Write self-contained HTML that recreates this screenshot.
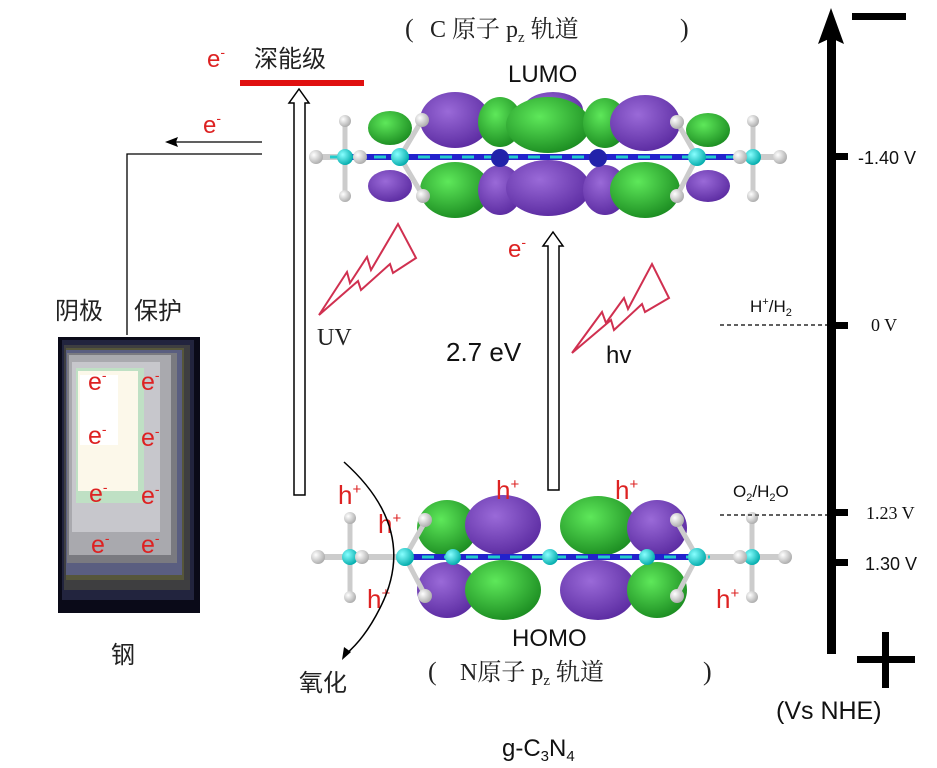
<!DOCTYPE html><html><head><meta charset="utf-8"><style>body{margin:0;background:#fff}svg{display:block}</style></head><body>
<svg width="937" height="768" viewBox="0 0 937 768" xmlns="http://www.w3.org/2000/svg" font-family="Liberation Sans, Noto Sans CJK SC, sans-serif">
<defs>
<radialGradient id="p" cx="40%" cy="35%" r="70%"><stop offset="0" stop-color="#9a6ad8"/><stop offset="1" stop-color="#5a2aa0"/></radialGradient>
<radialGradient id="g" cx="40%" cy="35%" r="70%"><stop offset="0" stop-color="#5ee85a"/><stop offset="1" stop-color="#1a8a20"/></radialGradient>
<radialGradient id="c" cx="35%" cy="35%" r="70%"><stop offset="0" stop-color="#8ff"/><stop offset="1" stop-color="#0aa"/></radialGradient>
<radialGradient id="h" cx="35%" cy="35%" r="70%"><stop offset="0" stop-color="#fff"/><stop offset="1" stop-color="#aaa"/></radialGradient>
</defs>
<text x="405" y="37" font-family="Liberation Serif, Noto Serif CJK SC, serif" font-size="26" fill="#222">(</text>
<text x="430" y="37" font-family="Liberation Serif, Noto Serif CJK SC, serif" font-size="24" fill="#222">C 原子  p<tspan font-size="15" dy="5">z</tspan><tspan dy="-5">  轨道</tspan></text>
<text x="680" y="37" font-family="Liberation Serif, serif" font-size="26" fill="#222">)</text>
<text x="508" y="82" font-size="24" fill="#111">LUMO</text>
<text x="207" y="67" font-size="24" fill="#d22">e<tspan font-size="14" dy="-10">-</tspan></text>
<text x="254" y="67" font-size="24" fill="#222" font-family="Noto Sans CJK SC, sans-serif">深能级</text>
<rect x="240" y="80" width="124" height="6" fill="#e01010"/>
<text x="203" y="133" font-size="24" fill="#d22">e<tspan font-size="14" dy="-10">-</tspan></text>
<line x1="262" y1="142" x2="175" y2="142" stroke="#000" stroke-width="1.3"/>
<path d="M165 142 L178 137 L176 142 L178 147 Z" fill="#000"/>
<polyline points="262,154 127,154 127,335" fill="none" stroke="#000" stroke-width="1.3"/>
<path d="M294 495 V103 H289 L299 89 L309 103 H305 V495 Z" fill="#fff" stroke="#000" stroke-width="1.5"/>
<path d="M548 490 V246 H543 L553 232 L563 246 H559 V490 Z" fill="#fff" stroke="#000" stroke-width="1.5"/>
<text x="508" y="257" font-size="24" fill="#d22">e<tspan font-size="14" dy="-10">-</tspan></text>
<text x="446" y="361" font-size="26" fill="#111">2.7 eV</text>
<text x="606" y="363" font-size="24" fill="#111">hv</text>
<text x="317" y="345" font-family="Liberation Serif, serif" font-size="24" fill="#222">UV</text>
<polygon points="319,315 347,272 350,283 367,257 371,270 398,224 416,258 393,273 390,264 361,290 358,281" fill="none" stroke="#d03050" stroke-width="2"/>
<polygon points="572,353 602,312 606,323 624,298 628,309 652,264 669,298 645,312 642,304 614,330 611,320" fill="none" stroke="#d03050" stroke-width="2"/>
<g>
<ellipse cx="390" cy="128" rx="22" ry="17" fill="url(#g)"/>
<ellipse cx="455" cy="120" rx="35" ry="28" fill="url(#p)"/>
<ellipse cx="500" cy="122" rx="22" ry="25" fill="url(#g)"/>
<ellipse cx="553" cy="110" rx="30" ry="18" fill="url(#p)"/>
<ellipse cx="548" cy="125" rx="42" ry="28" fill="url(#g)"/>
<ellipse cx="605" cy="123" rx="22" ry="25" fill="url(#g)"/>
<ellipse cx="645" cy="123" rx="35" ry="28" fill="url(#p)"/>
<ellipse cx="708" cy="130" rx="22" ry="17" fill="url(#g)"/>
<ellipse cx="390" cy="186" rx="22" ry="16" fill="url(#p)"/>
<ellipse cx="455" cy="190" rx="35" ry="28" fill="url(#g)"/>
<ellipse cx="500" cy="190" rx="22" ry="25" fill="url(#p)"/>
<ellipse cx="548" cy="188" rx="42" ry="28" fill="url(#p)"/>
<ellipse cx="605" cy="190" rx="22" ry="25" fill="url(#p)"/>
<ellipse cx="645" cy="190" rx="35" ry="28" fill="url(#g)"/>
<ellipse cx="708" cy="186" rx="22" ry="16" fill="url(#p)"/>
<line x1="315" y1="157" x2="780" y2="157" stroke="#ccc" stroke-width="6"/>
<line x1="340" y1="157" x2="750" y2="157" stroke="#22c" stroke-width="6"/>
<line x1="330" y1="157" x2="760" y2="157" stroke="#2cc" stroke-width="3" stroke-dasharray="12 10"/>
<g stroke="#ccc" stroke-width="5"><line x1="400" y1="157" x2="422" y2="120"/><line x1="400" y1="157" x2="423" y2="196"/><line x1="697" y1="157" x2="677" y2="122"/><line x1="697" y1="157" x2="677" y2="196"/><line x1="345" y1="157" x2="345" y2="123"/><line x1="345" y1="157" x2="345" y2="195"/><line x1="753" y1="157" x2="753" y2="123"/><line x1="753" y1="157" x2="753" y2="195"/></g>
<circle cx="400" cy="157" r="9" fill="url(#c)"/><circle cx="697" cy="157" r="9" fill="url(#c)"/>
<circle cx="345" cy="157" r="8" fill="url(#c)"/><circle cx="753" cy="157" r="8" fill="url(#c)"/>
<circle cx="500" cy="158" r="9" fill="#22a"/><circle cx="598" cy="158" r="9" fill="#22a"/>
<g fill="url(#h)"><circle cx="422" cy="120" r="7"/><circle cx="423" cy="196" r="7"/><circle cx="677" cy="122" r="7"/><circle cx="677" cy="196" r="7"/><circle cx="345" cy="121" r="6"/><circle cx="345" cy="196" r="6"/><circle cx="753" cy="121" r="6"/><circle cx="753" cy="196" r="6"/><circle cx="316" cy="157" r="7"/><circle cx="360" cy="157" r="7"/><circle cx="740" cy="157" r="7"/><circle cx="780" cy="157" r="7"/></g>
</g>
<g>
<ellipse cx="447" cy="528" rx="30" ry="28" fill="url(#g)"/>
<ellipse cx="503" cy="525" rx="38" ry="30" fill="url(#p)"/>
<ellipse cx="598" cy="526" rx="38" ry="30" fill="url(#g)"/>
<ellipse cx="657" cy="528" rx="30" ry="28" fill="url(#p)"/>
<ellipse cx="447" cy="590" rx="30" ry="28" fill="url(#p)"/>
<ellipse cx="503" cy="590" rx="38" ry="30" fill="url(#g)"/>
<ellipse cx="598" cy="590" rx="38" ry="30" fill="url(#p)"/>
<ellipse cx="657" cy="590" rx="30" ry="28" fill="url(#g)"/>
<line x1="315" y1="557" x2="790" y2="557" stroke="#ccc" stroke-width="6"/>
<line x1="410" y1="557" x2="700" y2="557" stroke="#22c" stroke-width="6"/>
<line x1="400" y1="557" x2="710" y2="557" stroke="#2cc" stroke-width="3" stroke-dasharray="12 10"/>
<g stroke="#ccc" stroke-width="5"><line x1="405" y1="557" x2="425" y2="522"/><line x1="405" y1="557" x2="425" y2="595"/><line x1="697" y1="557" x2="677" y2="522"/><line x1="697" y1="557" x2="677" y2="595"/><line x1="350" y1="557" x2="350" y2="520"/><line x1="350" y1="557" x2="350" y2="595"/><line x1="752" y1="557" x2="752" y2="520"/><line x1="752" y1="557" x2="752" y2="595"/></g>
<g fill="url(#c)"><circle cx="405" cy="557" r="9"/><circle cx="697" cy="557" r="9"/><circle cx="350" cy="557" r="8"/><circle cx="752" cy="557" r="8"/><circle cx="453" cy="557" r="8"/><circle cx="550" cy="557" r="8"/><circle cx="647" cy="557" r="8"/></g>
<g fill="url(#h)"><circle cx="425" cy="520" r="7"/><circle cx="425" cy="596" r="7"/><circle cx="677" cy="520" r="7"/><circle cx="677" cy="596" r="7"/><circle cx="350" cy="518" r="6"/><circle cx="350" cy="597" r="6"/><circle cx="752" cy="518" r="6"/><circle cx="752" cy="597" r="6"/><circle cx="318" cy="557" r="7"/><circle cx="362" cy="557" r="7"/><circle cx="740" cy="557" r="7"/><circle cx="785" cy="557" r="7"/></g>
</g>
<g font-size="26" fill="#d22">
<text x="338" y="504">h<tspan font-size="15" dy="-10">+</tspan></text>
<text x="378" y="533">h<tspan font-size="15" dy="-10">+</tspan></text>
<text x="367" y="608">h<tspan font-size="15" dy="-10">+</tspan></text>
<text x="496" y="499">h<tspan font-size="15" dy="-10">+</tspan></text>
<text x="615" y="499">h<tspan font-size="15" dy="-10">+</tspan></text>
<text x="716" y="608">h<tspan font-size="15" dy="-10">+</tspan></text>
</g>
<path d="M344 462 Q420 530 380 608 Q365 638 346 654" fill="none" stroke="#000" stroke-width="1.5"/>
<path d="M342 660 L344 647 L351 652 Z" fill="#000"/>
<text x="299" y="691" font-size="24" fill="#222" font-family="Noto Sans CJK SC, sans-serif">氧化</text>
<text x="512" y="646" font-size="24" fill="#111">HOMO</text>
<text x="428" y="680" font-family="Liberation Serif, serif" font-size="26" fill="#222">(</text>
<text x="460" y="680" font-family="Liberation Serif, Noto Serif CJK SC, serif" font-size="24" fill="#222">N原子  p<tspan font-size="15" dy="5">z</tspan><tspan dy="-5">  轨道</tspan></text>
<text x="703" y="680" font-family="Liberation Serif, serif" font-size="26" fill="#222">)</text>
<text x="502" y="756" font-size="24" fill="#111">g-C<tspan font-size="15" dy="5">3</tspan><tspan dy="-5">N</tspan><tspan font-size="15" dy="5">4</tspan></text>
<text x="55" y="319" font-size="24" fill="#222" font-family="Noto Sans CJK SC, sans-serif">阴极</text>
<text x="134" y="319" font-size="24" fill="#222" font-family="Noto Sans CJK SC, sans-serif">保护</text>
<rect x="58" y="337" width="142" height="276" fill="#0a0a18"/>
<rect x="62" y="340" width="132" height="260" fill="#22243e"/>
<rect x="64" y="345" width="126" height="245" fill="#3e3e40"/>
<rect x="66" y="348" width="118" height="232" fill="#56563a"/>
<rect x="66" y="350" width="116" height="225" fill="#5a5e80"/>
<rect x="67" y="353" width="110" height="210" fill="#7a7a80"/>
<rect x="69" y="355" width="102" height="200" fill="#a9a9ae"/>
<rect x="72" y="362" width="88" height="170" fill="#c7c7cc"/>
<rect x="76" y="368" width="68" height="135" fill="#bfe0c4"/>
<rect x="78" y="371" width="60" height="120" fill="#fcf8ea"/>
<rect x="80" y="375" width="38" height="70" fill="#fff"/>
<g font-size="25" fill="#d22">
<text x="88" y="390">e<tspan font-size="14" dy="-10">-</tspan></text><text x="141" y="390">e<tspan font-size="14" dy="-10">-</tspan></text>
<text x="88" y="444">e<tspan font-size="14" dy="-10">-</tspan></text><text x="141" y="446">e<tspan font-size="14" dy="-10">-</tspan></text>
<text x="89" y="502">e<tspan font-size="14" dy="-10">-</tspan></text><text x="141" y="504">e<tspan font-size="14" dy="-10">-</tspan></text>
<text x="91" y="553">e<tspan font-size="14" dy="-10">-</tspan></text><text x="141" y="553">e<tspan font-size="14" dy="-10">-</tspan></text>
</g>
<text x="111" y="663" font-size="24" fill="#222" font-family="Noto Sans CJK SC, sans-serif">钢</text>
<rect x="827" y="30" width="9" height="624" fill="#000"/>
<path d="M818 44 L831 8 L844 44 L831 38 Z" fill="#000"/>
<rect x="852" y="13" width="54" height="7" fill="#000"/>
<rect x="857" y="656" width="58" height="7" fill="#000"/>
<rect x="882" y="632" width="7" height="56" fill="#000"/>
<g fill="#000"><rect x="830" y="153" width="18" height="7"/><rect x="830" y="322" width="18" height="7"/><rect x="830" y="509" width="18" height="7"/><rect x="830" y="559" width="18" height="7"/></g>
<text x="858" y="164" font-size="18" fill="#111">-1.40 V</text>
<text x="871" y="331" font-family="Liberation Serif, serif" font-size="18" fill="#111">0 V</text>
<text x="866" y="519" font-family="Liberation Serif, serif" font-size="18" fill="#111">1.23 V</text>
<text x="865" y="570" font-size="18" fill="#111">1.30 V</text>
<line x1="720" y1="325" x2="828" y2="325" stroke="#000" stroke-width="1.3" stroke-dasharray="4 3"/>
<line x1="720" y1="515" x2="828" y2="515" stroke="#000" stroke-width="1.3" stroke-dasharray="4 3"/>
<text x="750" y="312" font-size="17" fill="#111">H<tspan font-size="11" dy="-7">+</tspan><tspan dy="7">/H</tspan><tspan font-size="11" dy="4">2</tspan></text>
<text x="733" y="497" font-size="17" fill="#111">O<tspan font-size="11" dy="4">2</tspan><tspan dy="-4">/H</tspan><tspan font-size="11" dy="4">2</tspan><tspan dy="-4">O</tspan></text>
<text x="776" y="719" font-size="25" fill="#111">(Vs NHE)</text>
</svg>
</body></html>
